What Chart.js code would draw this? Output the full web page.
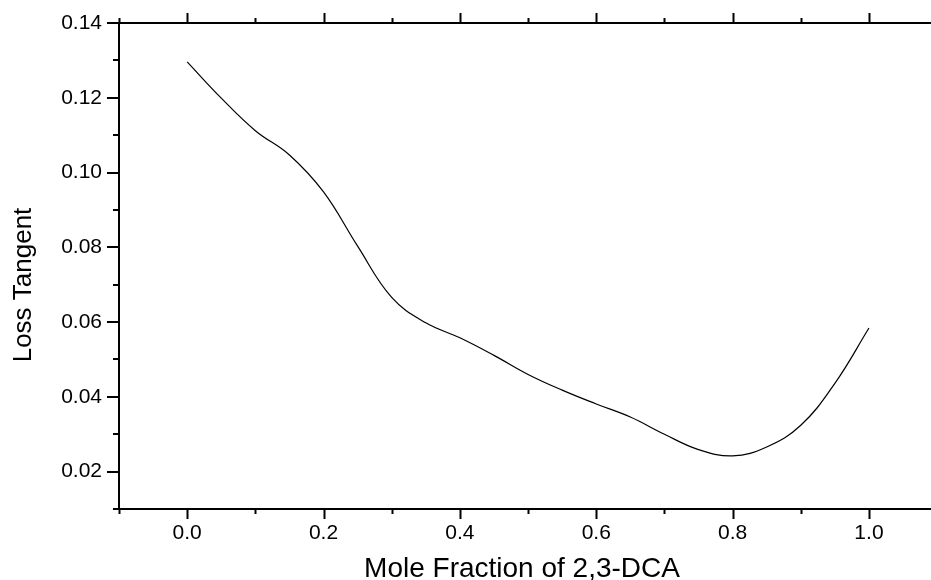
<!DOCTYPE html>
<html>
<head>
<meta charset="utf-8">
<script src="https://cdn.jsdelivr.net/npm/chart.js@4/dist/chart.umd.min.js"></script>
<style>
  html, body { margin: 0; padding: 0; background: #fff; }
  #wrap { width: 931px; height: 580px; }
</style>
</head>
<body>
<div id="wrap"><canvas id="chart" width="931" height="580"></canvas></div>
<script>
// данные
const moleFraction = [0.00, 0.05, 0.10, 0.15, 0.20, 0.25, 0.30, 0.35, 0.40, 0.45, 0.50,
                      0.55, 0.60, 0.65, 0.70, 0.75, 0.80, 0.85, 0.90, 0.95, 1.00];
const lossTangent = [0.1296, 0.1199, 0.1112, 0.1047, 0.0948, 0.0803, 0.0666, 0.0598, 0.0558, 0.0511, 0.0460,
                     0.0418, 0.0381, 0.0346, 0.0300, 0.0259, 0.0242, 0.0266, 0.0324, 0.0436, 0.0584];

const xMajor = [0.0, 0.2, 0.4, 0.6, 0.8, 1.0];
const xMinor = [-0.1, 0.1, 0.3, 0.5, 0.7, 0.9];
const xLabels = ['0.0', '0.2', '0.4', '0.6', '0.8', '1.0'];
const yMajor = [0.02, 0.04, 0.06, 0.08, 0.10, 0.12, 0.14];
const yMinor = [0.01, 0.03, 0.05, 0.07, 0.09, 0.11, 0.13];
const yLabels = ['0.02', '0.04', '0.06', '0.08', '0.10', '0.12', '0.14'];

const xTitle = 'Mole Fraction of 2,3-DCA';
const yTitle = 'Loss Tangent';

const FONT = "'Liberation Sans', Arial, sans-serif";

// рисуем засечки (большие и малые), верхнюю ось и подписи осей
const axesPlugin = {
    id: 'axesPlugin',
    afterDraw(chart) {
        const ctx = chart.ctx;
        const area = chart.chartArea;
        const xs = chart.scales.x;
        const ys = chart.scales.y;
        ctx.save();
        ctx.strokeStyle = '#000';
        ctx.lineWidth = 2;

        // верхняя ось
        ctx.beginPath();
        ctx.moveTo(area.left - 1, area.top);
        ctx.lineTo(area.right, area.top);
        ctx.stroke();

        function xTick(v, len) {
            const px = Math.round(xs.getPixelForValue(v)) + 0.5;
            ctx.beginPath();
            ctx.moveTo(px, area.bottom);
            ctx.lineTo(px, area.bottom + len);
            ctx.moveTo(px, area.top);
            ctx.lineTo(px, area.top - len);
            ctx.stroke();
        }
        function yTick(v, len) {
            const py = Math.round(ys.getPixelForValue(v));
            ctx.beginPath();
            ctx.moveTo(area.left, py);
            ctx.lineTo(area.left - len, py);
            ctx.stroke();
        }
        xMajor.forEach(v => xTick(v, 10));
        xMinor.forEach(v => xTick(v, 5));
        yMajor.forEach(v => yTick(v, 12));
        yMinor.forEach(v => yTick(v, 6));

        // подписи осей
        ctx.fillStyle = '#000';
        ctx.textAlign = 'center';
        ctx.textBaseline = 'alphabetic';
        ctx.font = '28px ' + FONT;
        ctx.fillText(xTitle, (area.left + area.right) / 2 - 3, 577);

        ctx.font = '26px ' + FONT;
        ctx.translate(31, 285);
        ctx.rotate(-Math.PI / 2);
        ctx.fillText(yTitle, 0, 0);
        ctx.restore();
    }
};

const ctx = document.getElementById('chart').getContext('2d');
const chart = new Chart(ctx, {
    type: 'line',
    data: {
        datasets: [{
            label: yTitle,
            data: moleFraction.map((x, i) => ({ x: x, y: lossTangent[i] })),
            borderColor: '#000',
            borderWidth: 1.2,
            pointRadius: 0,
            fill: false,
            tension: 0.4
        }]
    },
    options: {
        responsive: false,
        animation: false,
        layout: { padding: { top: 23, right: 0, left: 0, bottom: 0 } },
        plugins: {
            legend: { display: false },
            tooltip: { enabled: false }
        },
        scales: {
            x: {
                type: 'linear',
                min: -0.1,
                max: 1.091,
                afterBuildTicks: s => { s.ticks = xMajor.map(v => ({ value: v })); },
                afterFit: s => { s.height = 71; s.paddingLeft = 0; s.paddingRight = 0; },
                grid: { display: false, drawTicks: false },
                border: { display: true, color: '#000', width: 2 },
                ticks: {
                    color: '#000',
                    font: { family: FONT, size: 21 },
                    padding: 12,
                    maxRotation: 0,
                    callback: (v, i) => xLabels[i]
                }
            },
            y: {
                type: 'linear',
                min: 0.01,
                max: 0.14,
                afterBuildTicks: s => { s.ticks = yMajor.map(v => ({ value: v })); },
                afterFit: s => { s.width = 119; s.paddingTop = 0; s.paddingBottom = 0; },
                grid: { display: false, drawTicks: false },
                border: { display: true, color: '#000', width: 2 },
                ticks: {
                    color: '#000',
                    font: { family: FONT, size: 21 },
                    padding: 17,
                    callback: (v, i) => yLabels[i]
                }
            }
        }
    },
    plugins: [axesPlugin]
});
</script>
</body>
</html>
